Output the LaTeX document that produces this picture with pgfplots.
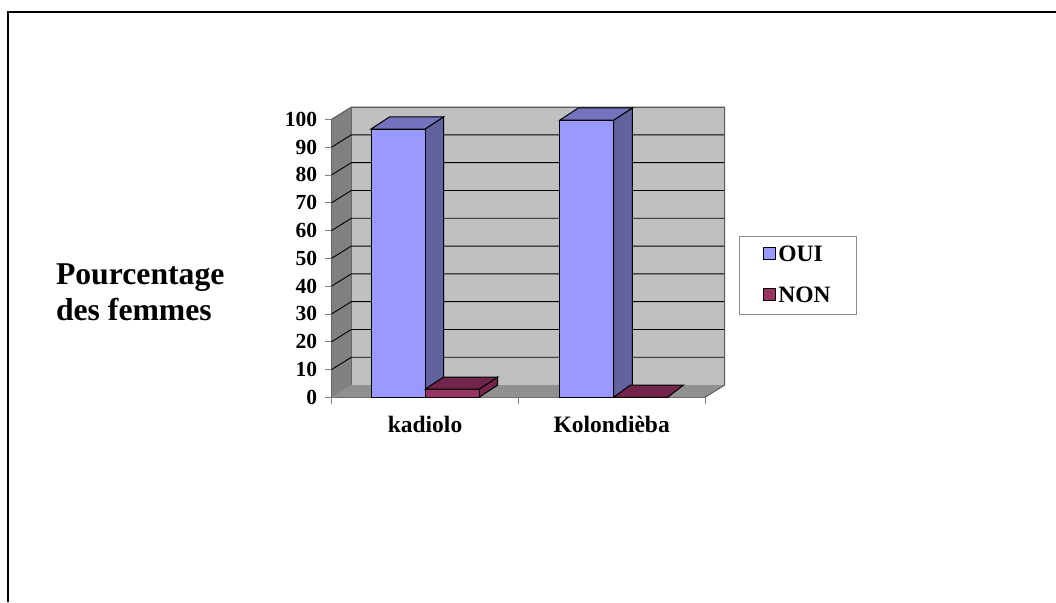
\documentclass[border=0pt]{standalone}
\usepackage{pgfplots}
\pgfplotsset{compat=1.18}
\usepackage{fontspec}
\setmainfont{Liberation Serif}
\definecolor{wallc}{HTML}{C0C0C0}
\definecolor{sidec}{HTML}{808080}
\definecolor{floorc}{HTML}{909090}
\definecolor{ouif}{HTML}{9999FF}
\definecolor{ouis}{HTML}{62629F}
\definecolor{ouit}{HTML}{7474BE}
\definecolor{nonf}{HTML}{993366}
\definecolor{nons}{HTML}{72244A}
\begin{document}
\begin{tikzpicture}[x=1pt,y=1pt]
\path[use as bounding box] (0,0) rectangle (1056,602);
\draw[line width=2pt,black] (8,0) -- (8,590) -- (1056,590);
\begin{axis}[
  at={(331.7pt,204.7pt)}, anchor=south west,
  scale only axis, width=373.3pt, height=278pt,
  xmin=0, xmax=2, ymin=0, ymax=100,
  clip=false,
  unbounded coords=jump,
  axis x line*=bottom, axis y line*=left,
  axis line style={-, draw=black!65, line width=1.5pt},
  xtick={0.5,1.5}, xticklabels={kadiolo,Kolondièba},
  minor xtick={0,1,2},
  major x tick style={draw=none},
  minor x tick style={draw=black!50, line width=0.7pt},
  minor tick length=7pt,
  ytick={0,10,...,100},
  y tick style={draw=black!50, line width=0.7pt},
  major tick length=7pt,
  tick align=outside,
  xtick pos=lower, ytick pos=left,
  y tick label style={font=\bfseries\fontsize{21.5}{24}\selectfont, xshift=-4pt},
  x tick label style={font=\bfseries\fontsize{23.5}{26}\selectfont, yshift=-8pt},
  /pgf/number format/assume math mode=true,
  legend image code/.code={\draw[#1, draw=black, line width=1.2pt] (0pt,-5pt) rectangle (12pt,7pt);},
  legend style={at={(1.091,0.58)}, anchor=north west, draw=black!45,
    font=\bfseries\fontsize{23.5}{26}\selectfont,
    inner xsep=24pt, inner ysep=8pt, row sep=20pt, cells={anchor=west},
    /tikz/every even column/.append style={column sep=3pt}},
]
% back wall, floor, side wall
\addplot[forget plot, fill=wallc, draw=black!65] coordinates {(0.105,4.4) (2.105,4.4) (2.105,104.4) (0.105,104.4)} -- cycle;
\addplot[forget plot, fill=floorc, draw=none] coordinates {(0,0) (2,0) (2.105,4.4) (0.105,4.4)} -- cycle;
\addplot[forget plot, fill=sidec, draw=none] coordinates {(0,0) (0.105,4.4) (0.105,104.4) (0,100)} -- cycle;
% grid on the walls
\addplot[forget plot, black, line width=0.9pt] coordinates {
 (0,10) (0.105,14.4) (2.105,14.4) (2.105,nan)
 (0,20) (0.105,24.4) (2.105,24.4) (2.105,nan)
 (0,30) (0.105,34.4) (2.105,34.4) (2.105,nan)
 (0,40) (0.105,44.4) (2.105,44.4) (2.105,nan)
 (0,50) (0.105,54.4) (2.105,54.4) (2.105,nan)
 (0,60) (0.105,64.4) (2.105,64.4) (2.105,nan)
 (0,70) (0.105,74.4) (2.105,74.4) (2.105,nan)
 (0,80) (0.105,84.4) (2.105,84.4) (2.105,nan)
 (0,90) (0.105,94.4) (2.105,94.4) (2.105,nan)
};
\addplot[forget plot, black!65, line width=1pt] coordinates {(0,100) (0.105,104.4) (2.105,104.4) (2.105,4.4) (2,0)};
% kadiolo OUI
\addplot[forget plot, fill=ouis, draw=black, line width=1pt] coordinates {(0.5,0) (0.6,4.4) (0.6,100.9) (0.5,96.5)} -- cycle;
\addplot[forget plot, fill=ouit, draw=black, line width=1pt] coordinates {(0.2107,96.5) (0.5,96.5) (0.6,100.9) (0.3107,100.9)} -- cycle;
% Kolondieba OUI
\addplot[forget plot, fill=ouis, draw=black, line width=1pt] coordinates {(1.511,0) (1.611,4.4) (1.611,104.1) (1.511,99.7)} -- cycle;
\addplot[forget plot, fill=ouit, draw=black, line width=1pt] coordinates {(1.222,99.7) (1.511,99.7) (1.611,104.1) (1.322,104.1)} -- cycle;
% OUI fronts
\addplot[ybar, bar width=54pt, bar shift=-27pt, fill=ouif, draw=black, line width=1pt]
  coordinates {(0.5,96.5) (1.511,99.7)};
\addlegendentry{OUI}
% kadiolo NON
\addplot[forget plot, fill=nons, draw=black, line width=1pt] coordinates {(0.7893,0) (0.8893,4.4) (0.8893,7.3) (0.7893,2.9)} -- cycle;
\addplot[forget plot, fill=nons, draw=black, line width=1pt] coordinates {(0.5,2.9) (0.7893,2.9) (0.8893,7.3) (0.6,7.3)} -- cycle;
% Kolondieba NON
\addplot[forget plot, fill=nons, draw=black, line width=1pt] coordinates {(1.511,0) (1.8,0) (1.885,4.4) (1.6,4.4)} -- cycle;
% NON fronts
\addplot[ybar, bar width=54pt, bar shift=27pt, fill=nonf, draw=black, line width=1pt]
  coordinates {(0.5,2.9) (1.511,0)};
\addlegendentry{NON}
\node[anchor=west, align=left, font=\bfseries\fontsize{31.7}{36}\selectfont] at (rel axis cs:-0.748,0.377) {Pourcentage\\des femmes};
\end{axis}
\end{tikzpicture}
\end{document}
